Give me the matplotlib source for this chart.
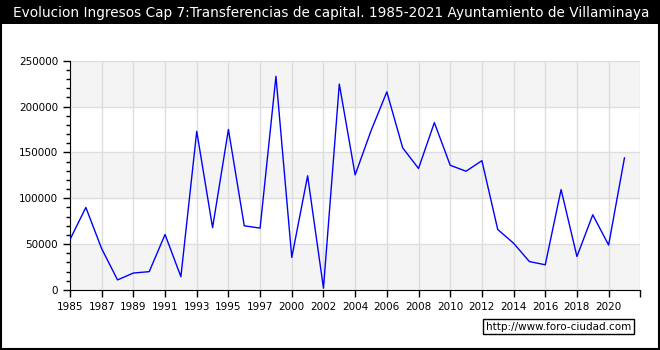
import matplotlib
matplotlib.use("Agg")
import matplotlib.pyplot as plt
from matplotlib.patches import Rectangle
from matplotlib.ticker import MultipleLocator

# years shown on the chart (one year missing between 1997 and 2000)
years = [1985, 1986, 1987, 1988, 1989, 1990, 1991, 1992, 1993, 1994, 1995,
         1996, 1997, 1998, 2000, 2001, 2002, 2003, 2004, 2005, 2006, 2007,
         2008, 2009, 2010, 2011, 2012, 2013, 2014, 2015, 2016, 2017, 2018,
         2019, 2020, 2021]
ingresos = [55000, 90000, 45000, 11000, 18500, 20000, 60500, 14500, 173000,
            68000, 175000, 70000, 67500, 233000, 35500, 124500, 2000, 224500,
            125500, 173500, 216000, 155000, 132500, 182500, 136000, 129500,
            141000, 66000, 51000, 31000, 27500, 109500, 36500, 82000, 49000,
            144000]

title = "Evolucion Ingresos Cap 7:Transferencias de capital. 1985-2021 Ayuntamiento de Villaminaya"

fig = plt.figure(figsize=(6.6, 3.5), dpi=100)
fig.patch.set_facecolor("white")

# black title bar and outer frame
fig.add_artist(Rectangle((0, 1 - 24 / 350), 1, 24 / 350, transform=fig.transFigure,
                         facecolor="black", edgecolor="none"))
fig.add_artist(Rectangle((0.001, 0.002), 0.997, 0.997, transform=fig.transFigure,
                         facecolor="none", edgecolor="black", linewidth=1.5))
fig.text(331 / 660, 1 - 13 / 350, title, color="white", ha="center", va="center", fontsize=9.8)

ax = fig.add_axes([70 / 660, 1 - 290 / 350, 570.3 / 660, 229.3 / 350])
x = list(range(len(years)))

# alternating background bands
for i, lo in enumerate(range(0, 250000, 50000)):
    if i % 2 == 0:
        ax.axhspan(lo, lo + 50000, color="#f4f4f4", zorder=0, linewidth=0)

ax.plot(x, ingresos, color="#0000ff", linewidth=1, zorder=3)

ax.set_xlim(0, len(years))
ax.set_ylim(0, 250000)
xt = list(range(0, len(years) + 1, 2))
ax.set_xticks(xt)
ax.set_xticklabels([str(years[i]) if i < len(years) else "" for i in xt])
ax.yaxis.set_major_locator(MultipleLocator(50000))
ax.yaxis.set_minor_locator(MultipleLocator(10000))
ax.grid(True, which="major", color="#dddddd", linewidth=1, zorder=1)
ax.set_axisbelow(True)

for s in ["top", "right"]:
    ax.spines[s].set_visible(False)
ax.tick_params(axis="both", which="major", labelsize=7.5, length=5, width=1, direction="out")
ax.tick_params(axis="y", which="minor", length=3, width=1)

fig.text(486 / 660, 1 - 326.5 / 350, "http://www.foro-ciudad.com", fontsize=7.5,
         ha="left", va="center",
         bbox=dict(boxstyle="square,pad=0.25", facecolor="white", edgecolor="black", linewidth=1))

fig.savefig("out.png", dpi=100)
